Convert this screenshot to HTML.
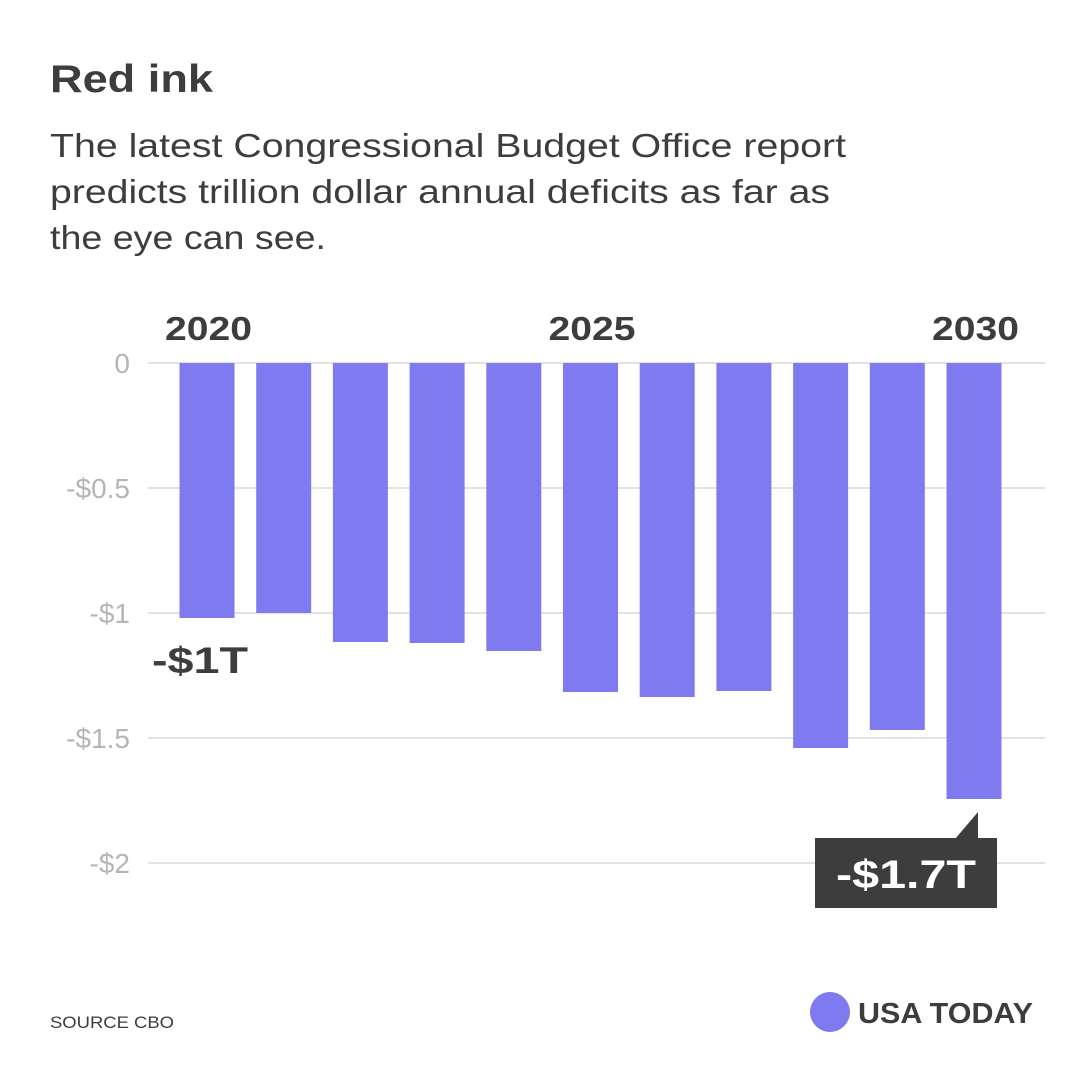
<!DOCTYPE html>
<html><head><meta charset="utf-8"><style>
body{margin:0;background:#fff;width:1080px;height:1080px;overflow:hidden;font-family:"Liberation Sans",sans-serif;}
</style></head><body>
<svg width="1080" height="1080" xmlns="http://www.w3.org/2000/svg">
<text x="50" y="92" font-size="39" font-weight="bold" fill="#3d3d3d" textLength="163" lengthAdjust="spacingAndGlyphs">Red ink</text>
<g font-size="33" fill="#3d3d3d">
<text x="50" y="157" textLength="796" lengthAdjust="spacingAndGlyphs">The latest Congressional Budget Office report</text>
<text x="50" y="203" textLength="780" lengthAdjust="spacingAndGlyphs">predicts trillion dollar annual deficits as far as</text>
<text x="50" y="249" textLength="276" lengthAdjust="spacingAndGlyphs">the eye can see.</text>
</g>
<g id="grid"></g>
<g id="bars"></g>
<g id="xl"></g>
<text x="152" y="673" font-size="37" font-weight="bold" fill="#3d3d3d" textLength="96" lengthAdjust="spacingAndGlyphs">-$1T</text>
<g>
<rect x="815" y="838" width="182" height="70" fill="#3d3d3d"/>
<polygon points="955,839 978,812 978,839" fill="#3d3d3d"/>
<text x="906" y="888" text-anchor="middle" font-size="40" font-weight="bold" fill="#fff" textLength="140" lengthAdjust="spacingAndGlyphs">-$1.7T</text>
</g>
<text x="50" y="1028" font-size="17" fill="#3d3d3d" textLength="124" lengthAdjust="spacingAndGlyphs">SOURCE CBO</text>
<circle cx="830" cy="1012" r="20" fill="#7f7af0"/>
<text x="858" y="1023" font-size="29" font-weight="bold" fill="#3d3d3d" textLength="175" lengthAdjust="spacingAndGlyphs">USA TODAY</text>
</svg>
<script>
const years=[2020,2021,2022,2023,2024,2025,2026,2027,2028,2029,2030];
const deficits=[-1.02,-1.00,-1.116,-1.12,-1.152,-1.316,-1.336,-1.312,-1.54,-1.468,-1.744];
const ticks=[0,-0.5,-1,-1.5,-2];
const tickLabels=["0","-$0.5","-$1","-$1.5","-$2"];
const yearLabels=[2020,2025,2030];
const NS="http://www.w3.org/2000/svg";
const y=v=>363-v*250;
const x=i=>207+i*76.7;
const g=document.getElementById('grid');
ticks.forEach((t,i)=>{
 const l=document.createElementNS(NS,'line');
 l.setAttribute('x1',148);l.setAttribute('x2',1045);l.setAttribute('y1',y(t));l.setAttribute('y2',y(t));
 l.setAttribute('stroke','#d8d8d8');l.setAttribute('stroke-width',1.5);
 
 
 g.appendChild(l);
 const tx=document.createElementNS(NS,'text');
 tx.setAttribute('x',130);tx.setAttribute('y',y(t)+10);tx.setAttribute('text-anchor','end');
 tx.setAttribute('font-size',28);tx.setAttribute('fill','#b5b5b5');tx.textContent=tickLabels[i];
 
 
 g.appendChild(tx);
});
const b=document.getElementById('bars');
deficits.forEach((v,i)=>{
 const r=document.createElementNS(NS,'rect');
 r.setAttribute('x',x(i)-27.5);r.setAttribute('width',55);r.setAttribute('y',y(0));
 r.setAttribute('height',y(v)-y(0));r.setAttribute('fill','#7f7af0');
 
 
 b.appendChild(r);
});
const xl=document.getElementById('xl');
yearLabels.forEach(yr=>{
 const i=years.indexOf(yr);
 const t=document.createElementNS(NS,'text');
 t.setAttribute('x',x(i)-42);t.setAttribute('y',340);
 t.setAttribute('font-size',33);t.setAttribute('font-weight','bold');t.setAttribute('fill','#3d3d3d');
 t.setAttribute('textLength',87);t.setAttribute('lengthAdjust','spacingAndGlyphs');
 t.textContent=yr;
 
 
 xl.appendChild(t);
});
</script>
</body></html>
